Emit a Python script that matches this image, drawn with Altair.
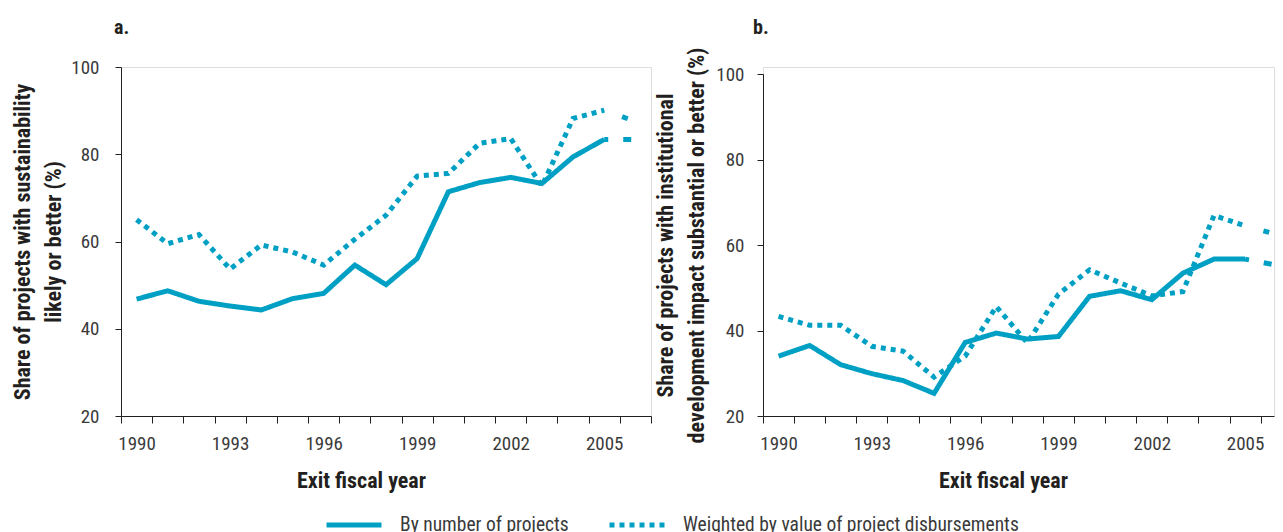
import altair as alt
import pandas as pd

# ---------------- data ----------------
years = list(range(1990, 2007))
series_names = ["By number of projects", "Weighted by value of project disbursements"]

a_by_number = [46.8, 48.7, 46.3, 45.2, 44.3, 46.9, 48.1, 54.6, 50.1, 56.1, 71.4, 73.5, 74.7, 73.3, 79.4, 83.4, 83.4]
a_weighted = [65.0, 59.5, 61.6, 53.7, 59.2, 57.6, 54.6, 60.5, 66.0, 75.0, 75.6, 82.5, 83.6, 72.7, 88.2, 90.1, 87.5]
b_by_number = [34.0, 36.5, 32.0, 29.9, 28.3, 25.3, 37.2, 39.4, 38.0, 38.6, 48.0, 49.3, 47.2, 53.4, 56.7, 56.7, 55.3]
b_weighted = [43.3, 41.2, 41.2, 36.3, 35.2, 29.1, 34.0, 45.6, 37.1, 48.5, 54.2, 51.1, 48.1, 49.1, 66.9, 64.5, 62.5]

label_years = [1990, 1993, 1996, 1999, 2002, 2005]
y_ticks = [20, 40, 60, 80, 100]
last_full_year = 2005

TEAL = "#00A0C4"
DARK = "#231F20"
LABEL = "#3A3A3A"
FONT = "Roboto Condensed, Liberation Sans Narrow, Liberation Sans, sans-serif"

rows = []
for panel, vals in [("a", [a_by_number, a_weighted]), ("b", [b_by_number, b_weighted])]:
    for s, v in zip(series_names, vals):
        for yr, val in zip(years, v):
            if yr <= last_full_year:
                rows.append(dict(panel=panel, series=s, year=yr, value=val, seg="main"))
            if yr >= last_full_year:
                rows.append(dict(panel=panel, series=s, year=yr, value=val, seg="prelim"))
df = pd.DataFrame(rows)


def make_panel(p, letter, ytitle, xmax, width, yrange, ylabpad, title_dx, title_off, ytitle_x, show_legend):
    data = df[df.panel == p]
    xscale = alt.Scale(domain=[1989.5, xmax], nice=False, zero=False)
    if yrange is None:
        yscale = alt.Scale(domain=[20, 100], nice=False, zero=False)
    else:
        yscale = alt.Scale(domain=[20, 100], nice=False, zero=False, range=yrange)
    yenc = alt.Y(
        "value:Q", scale=yscale,
        axis=alt.Axis(values=y_ticks, title=ytitle, tickSize=6, labelPadding=ylabpad, grid=False,
                      titleX=ytitle_x, titleLineHeight=31, titleFontSize=22, titleBaseline="bottom"),
    )
    tick_vals = [y - 0.5 for y in years + [2007] if y - 0.5 <= xmax]
    x_tick_axis = alt.Axis(values=tick_vals, labels=False, tickSize=7, title=None, grid=False, orient="bottom")
    x_label_axis = alt.Axis(values=label_years, format="d", ticks=False, tickSize=0, domain=False,
                            labelPadding=18, grid=False, orient="bottom", labelFlush=False, labelOverlap=False,
                            title="Exit fiscal year", titleX=240, titleY=71, titleBaseline="alphabetic",
                            titleFontSize=22)
    legend = alt.Legend(
        orient="none", legendX=203, legendY=428, direction="horizontal", title=None,
        symbolType="stroke", symbolSize=3025, symbolStrokeWidth=5, symbolStrokeColor=TEAL,
        labelFont=FONT, labelFontSize=19.5, labelColor=LABEL, labelOffset=16, columnPadding=30,
        labelLimit=600,
    )
    main = alt.Chart(data[data.seg == "main"]).mark_line(
        strokeWidth=5, color=TEAL, strokeCap="butt", clip=True
    ).encode(
        x=alt.X("year:Q", scale=xscale, axis=x_tick_axis),
        y=yenc,
        strokeDash=alt.StrokeDash(
            "series:N",
            scale=alt.Scale(domain=series_names, range=[[1, 0], [5, 5]]),
            legend=legend if show_legend else None,
        ),
    )
    pre = data[data.seg == "prelim"]
    pre_solid = alt.Chart(pre[pre.series == series_names[0]]).mark_line(
        strokeWidth=5, color=TEAL, strokeCap="butt", strokeDash=[4, 15, 8, 10], clip=True
    ).encode(x=alt.X("year:Q", scale=xscale, axis=x_label_axis), y=yenc)
    pre_dot = alt.Chart(pre[pre.series == series_names[1]]).mark_line(
        strokeWidth=5, color=TEAL, strokeCap="butt", strokeDash=[0, 19, 6, 20], clip=True
    ).encode(x=alt.X("year:Q", scale=xscale, axis=None), y=yenc)
    return alt.layer(main, pre_solid, pre_dot).resolve_axis(x="independent").properties(
        width=width, height=349,
        title=alt.TitleParams(letter, anchor="start", dx=title_dx, offset=title_off, frame="group",
                              fontSize=20, font=FONT, fontWeight="bold", color=DARK,
                              baseline="alphabetic"),
    )


pa = make_panel("a", "a.", ["Share of projects with sustainability", "likely or better (%)"],
                2006.5, 530, None, 16, -7, 4, -87, True)
pb = make_panel("b", "b.", ["Share of projects with institutional", "development impact substantial or better (%)"],
                2005.93, 511, [349, 7], 13, -10, -7, -86, False)

chart = alt.hconcat(pa, pb, spacing=112, bounds="flush").properties(
    padding={"left": 2, "top": 9, "right": 0, "bottom": 0}
).configure_view(stroke=None).configure(font=FONT).configure_axis(
    labelFont=FONT, labelFontSize=19, labelColor=LABEL,
    titleFont=FONT, titleFontWeight="bold", titleColor=DARK,
    domainColor=DARK, tickColor=DARK, domainWidth=1, tickWidth=1,
)

chart.save("out.html", embed_options={"renderer": "svg", "actions": False})
